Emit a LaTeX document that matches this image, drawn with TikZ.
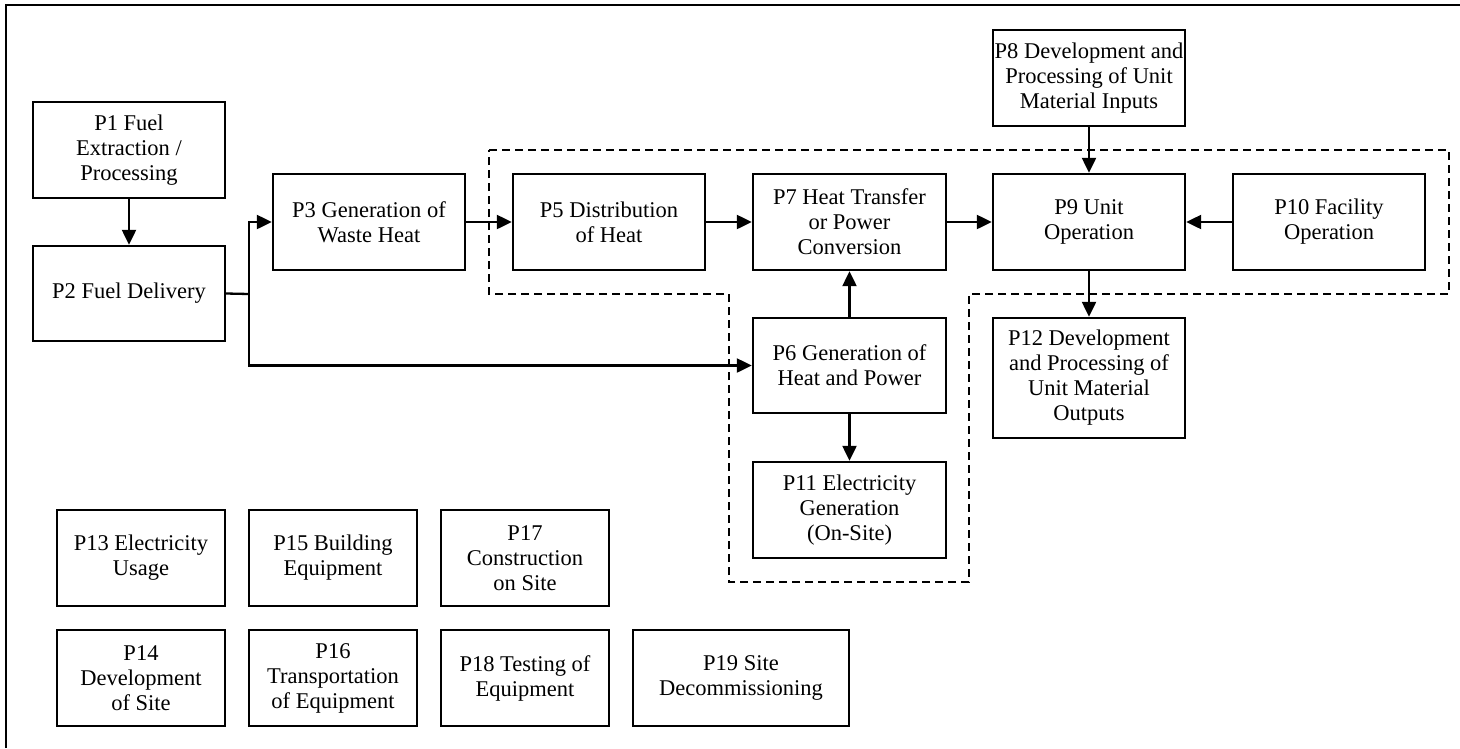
\documentclass[tikz,border=0pt]{standalone}
\usepackage{fontspec}
\setmainfont{Liberation Serif}
\usetikzlibrary{arrows.meta}
\begin{document}
\begin{tikzpicture}[x=1pt,y=-1pt,
  box/.style={draw, line width=2.4pt, align=center, inner sep=0pt,
    font=\fontsize{22.5}{25}\selectfont, minimum width=192pt, minimum height=96pt},
  sbox/.style={box, minimum width=168pt},
  conn/.style={line width=2.3pt, -{Triangle[length=15pt,width=14pt]}},
  plain/.style={line width=2.3pt},
  zone/.style={line width=2.3pt, dash pattern=on 8pt off 5pt},
  frame/.style={line width=2.8pt}]
\useasboundingbox (0,0) rectangle (1460,748);
% outer frame (partially visible)
\draw[frame] (6,748) -- (6,5) -- (1460,5);
% dashed system boundary
\draw[zone] (489,150) -- (1449,150) -- (1449,294) -- (969,294) -- (969,582)
  -- (729,582) -- (729,294) -- (489,294) -- cycle;
% nodes
\node[box] (p1) at (129,150) {P1 Fuel\\Extraction /\\Processing};
\node[box, minimum height=95pt] (p2) at (129,293.5) {P2 Fuel Delivery};
\node[box] (p3) at (369,222) {P3 Generation of\\Waste Heat};
\node[box] (p5) at (609,222) {P5 Distribution\\of Heat};
\node[box, minimum width=193pt] (p7) at (849.5,222) {P7 Heat Transfer\\or Power\\Conversion};
\node[box] (p9) at (1089,222) {P9 Unit\\Operation};
\node[box] (p10) at (1329,222) {P10 Facility\\Operation};
\node[box] (p8) at (1089,78) {P8 Development and\\Processing of Unit\\Material Inputs};
\node[box, minimum height=120pt] (p12) at (1089,378) {P12 Development\\and Processing of\\Unit Material\\Outputs};
\node[box, minimum width=193pt, minimum height=95pt] (p6) at (849.5,365.5) {P6 Generation of\\Heat and Power};
\node[box, minimum width=193pt] (p11) at (849.5,510) {P11 Electricity\\Generation\\(On-Site)};
\node[sbox] (p13) at (141,558) {P13 Electricity\\Usage};
\node[sbox] (p15) at (333,558) {P15 Building\\Equipment};
\node[sbox] (p17) at (525,558) {P17\\Construction\\on Site};
\node[sbox] (p14) at (141,678) {P14\\Development\\of Site};
\node[sbox] (p16) at (333,678) {P16\\Transportation\\of Equipment};
\node[sbox] (p18) at (525,678) {P18 Testing of\\Equipment};
\node[box, minimum width=216pt] (p19) at (741,678) {P19 Site\\Decommissioning};
% connectors
\coordinate (j) at (249,294);
\draw[conn] (p1) -- (p2);
\draw[plain] (p2.east) -- (j);
\draw[conn] (j) |- (p3.west);
\draw[conn] (j) |- (p6.west);
\draw[conn] (p3) -- (p5);
\draw[conn] (p5) -- (p7);
\draw[conn] (p7) -- (p9);
\draw[conn] (p10) -- (p9);
\draw[conn] (p8) -- (p9);
\draw[conn] (p9) -- (p12);
\draw[conn] (p6) -- (p7);
\draw[conn] (p6) -- (p11);
\end{tikzpicture}
\end{document}
